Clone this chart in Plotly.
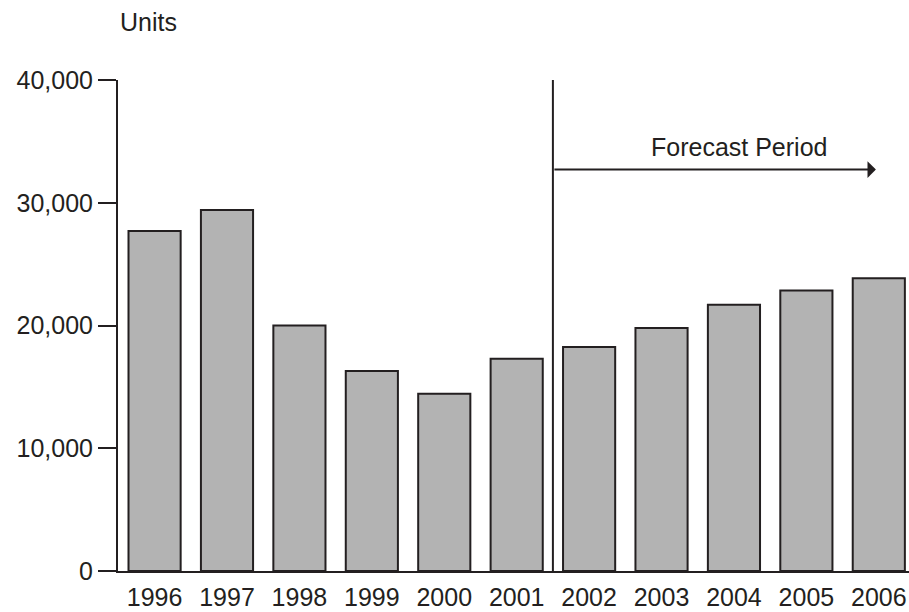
import plotly.graph_objects as go

years = ["1996", "1997", "1998", "1999", "2000", "2001", "2002", "2003", "2004", "2005", "2006"]
units = [27700, 29400, 20000, 16300, 14450, 17300, 18250, 19800, 21700, 22850, 23850]
y_ticks = [0, 10000, 20000, 30000, 40000]
y_tick_labels = ["0", "10,000", "20,000", "30,000", "40,000"]
forecast_start = 5.5      # between 2001 and 2002
forecast_arrow_end = 9.96
forecast_arrow_y = 32700
forecast_label = "Forecast Period"
axis_title = "Units"

TXT = "#231f20"
FONT = "Liberation Sans, Arial, sans-serif"
xs = list(range(len(years)))

fig = go.Figure()
fig.add_trace(go.Bar(
    x=xs, y=units, width=0.72,
    marker=dict(color="#b3b3b3", line=dict(color=TXT, width=2)),
    hoverinfo="x+y",
))

fig.update_layout(
    template="none",
    width=909, height=612,
    margin=dict(l=118, r=0, t=80, b=41, pad=0),
    paper_bgcolor="white", plot_bgcolor="white",
    showlegend=False,
    font=dict(family=FONT, size=25, color=TXT),
    xaxis=dict(
        range=[-0.505, 10.417], tickmode="array", tickvals=xs, ticktext=years,
        showgrid=False, zeroline=False, showline=True, linecolor=TXT, linewidth=2,
        ticks="", ticklabelstandoff=3, automargin=False,
        tickfont=dict(family=FONT, size=25, color=TXT),
    ),
    yaxis=dict(
        range=[0, 40000], tickmode="array", tickvals=y_ticks, ticktext=y_tick_labels,
        showgrid=False, zeroline=False, showline=True, linecolor=TXT, linewidth=2,
        ticks="outside", ticklen=18, tickwidth=2, tickcolor=TXT,
        ticklabelstandoff=0, automargin=False,
        tickfont=dict(family=FONT, size=25, color=TXT),
    ),
)

# forecast divider
fig.add_shape(type="line", xref="x", yref="y", x0=forecast_start, x1=forecast_start,
              y0=0, y1=40250, line=dict(color=TXT, width=2))

# arrow
fig.add_annotation(x=forecast_arrow_end, y=forecast_arrow_y, ax=forecast_start, ay=forecast_arrow_y,
                   xref="x", yref="y", axref="x", ayref="y", text="", showarrow=True,
                   arrowhead=1, arrowsize=1.4, arrowwidth=2, arrowcolor=TXT, standoff=0)

fig.add_annotation(x=8.07, y=34570, xref="x", yref="y", text=forecast_label, showarrow=False,
                   font=dict(family=FONT, size=25, color=TXT), xanchor="center", yanchor="middle")

fig.add_annotation(x=0, y=1.118, xref="paper", yref="paper", text=axis_title, showarrow=False,
                   font=dict(family=FONT, size=25, color=TXT), xanchor="left", yanchor="middle")

fig.write_html("out.html", config={"displayModeBar": False},
               post_script="document.body.style.margin='0';document.body.style.overflow='hidden';")
